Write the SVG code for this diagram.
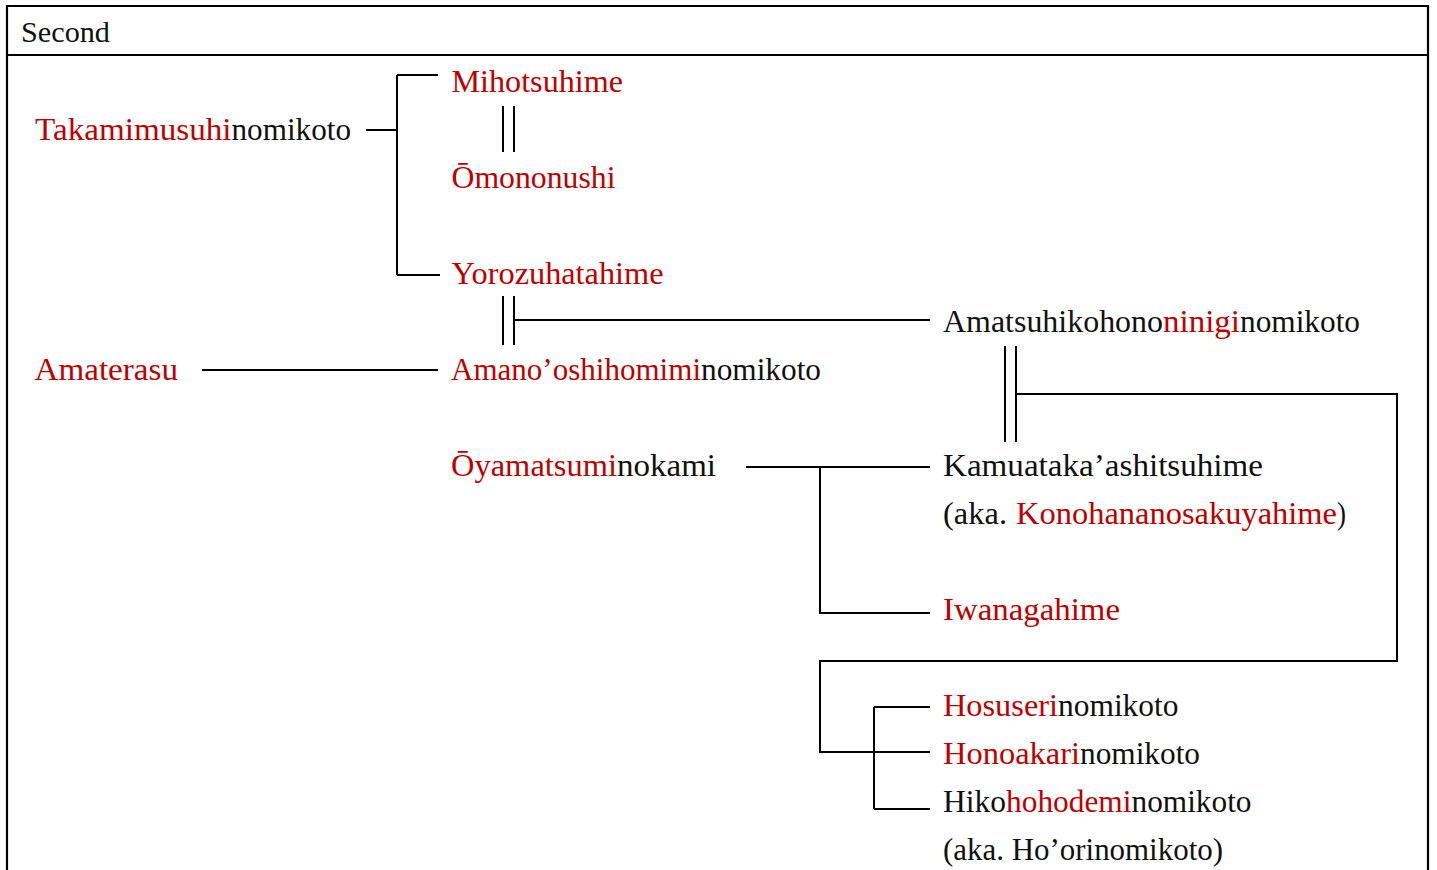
<svg xmlns="http://www.w3.org/2000/svg" width="1437" height="870" viewBox="0 0 1437 870">
<style>
text{font-family:"Liberation Serif","Times New Roman",serif;font-size:32px;fill:#111}
.r{fill:#c00000}
.ln{fill:none;stroke:#000;stroke-width:2}
.fr{fill:none;stroke:#000;stroke-width:2.2}
</style>
<rect width="1437" height="870" fill="#fff"/>
<g id="frame">
<path class="fr" d="M7,874 V6 H1428 V874"/>
<path class="fr" d="M7,55 H1428"/>
<text x="21" y="41.5" textLength="89" lengthAdjust="spacingAndGlyphs" style="font-size:30px">Second</text>
</g>
<g id="connectors">
<path class="ln" d="M366,130 H397 M397,75 V275 M397,75 H438 M397,275 H440"/>
<path class="ln" d="M503,106 V152 M514,106 V152"/>
<path class="ln" d="M503,296 V345 M514,296 V345 M514,320 H930"/>
<path class="ln" d="M202,370 H438"/>
<path class="ln" d="M1005,346 V442 M1016,346 V442 M1016,394 H1397 V661 H820 V752 H930"/>
<path class="ln" d="M874,707 V809 M874,707 H930 M874,809 H930"/>
<path class="ln" d="M746,467 H930 M820,467 V613 H930"/>
</g>
<g id="takamimusuhi">
<text class="r" x="35" y="139.5" textLength="196.5" lengthAdjust="spacingAndGlyphs">Takamimusuhi</text>
<text x="231.5" y="139.5" textLength="119.5" lengthAdjust="spacingAndGlyphs">nomikoto</text>
</g>
<g id="mihotsuhime">
<text class="r" x="451.5" y="91.5" textLength="171.5" lengthAdjust="spacingAndGlyphs">Mihotsuhime</text>
</g>
<g id="omononushi">
<text class="r" x="451.5" y="187.5" textLength="164" lengthAdjust="spacingAndGlyphs">Ōmononushi</text>
</g>
<g id="yorozuhatahime">
<text class="r" x="451.5" y="283.5" textLength="212" lengthAdjust="spacingAndGlyphs">Yorozuhatahime</text>
</g>
<g id="amatsuhiko">
<text x="943" y="331.5" textLength="220" lengthAdjust="spacingAndGlyphs">Amatsuhikohono</text>
<text class="r" x="1163" y="331.5" textLength="77" lengthAdjust="spacingAndGlyphs">ninigi</text>
<text x="1240" y="331.5" textLength="120" lengthAdjust="spacingAndGlyphs">nomikoto</text>
</g>
<g id="amaterasu">
<text class="r" x="34.5" y="379.5" textLength="143.5" lengthAdjust="spacingAndGlyphs">Amaterasu</text>
</g>
<g id="amanooshihomimi">
<text class="r" x="451" y="379.5" textLength="250" lengthAdjust="spacingAndGlyphs">Amano’oshihomimi</text>
<text x="701" y="379.5" textLength="120" lengthAdjust="spacingAndGlyphs">nomikoto</text>
</g>
<g id="oyamatsumi">
<text class="r" x="451" y="475.5" textLength="166" lengthAdjust="spacingAndGlyphs">Ōyamatsumi</text>
<text x="617" y="475.5" textLength="99" lengthAdjust="spacingAndGlyphs">nokami</text>
</g>
<g id="kamuataka">
<text x="943" y="475.5" textLength="320" lengthAdjust="spacingAndGlyphs">Kamuataka’ashitsuhime</text>
<text x="943" y="523.5" textLength="64" lengthAdjust="spacingAndGlyphs">(aka.</text>
<text class="r" x="1016" y="523.5" textLength="321" lengthAdjust="spacingAndGlyphs">Konohananosakuyahime</text>
<text x="1337" y="523.5" textLength="9" lengthAdjust="spacingAndGlyphs">)</text>
</g>
<g id="iwanagahime">
<text class="r" x="943" y="619.5" textLength="177" lengthAdjust="spacingAndGlyphs">Iwanagahime</text>
</g>
<g id="hosuseri">
<text class="r" x="943" y="715.5" textLength="115" lengthAdjust="spacingAndGlyphs">Hosuseri</text>
<text x="1058" y="715.5" textLength="120.5" lengthAdjust="spacingAndGlyphs">nomikoto</text>
</g>
<g id="honoakari">
<text class="r" x="943" y="763.5" textLength="137" lengthAdjust="spacingAndGlyphs">Honoakari</text>
<text x="1080" y="763.5" textLength="120" lengthAdjust="spacingAndGlyphs">nomikoto</text>
</g>
<g id="hikohohodemi">
<text x="943" y="811.5" textLength="63" lengthAdjust="spacingAndGlyphs">Hiko</text>
<text class="r" x="1006" y="811.5" textLength="125.5" lengthAdjust="spacingAndGlyphs">hohodemi</text>
<text x="1131.5" y="811.5" textLength="120" lengthAdjust="spacingAndGlyphs">nomikoto</text>
<text x="943" y="859.5" textLength="280" lengthAdjust="spacingAndGlyphs">(aka. Ho’orinomikoto)</text>
</g>
</svg>
